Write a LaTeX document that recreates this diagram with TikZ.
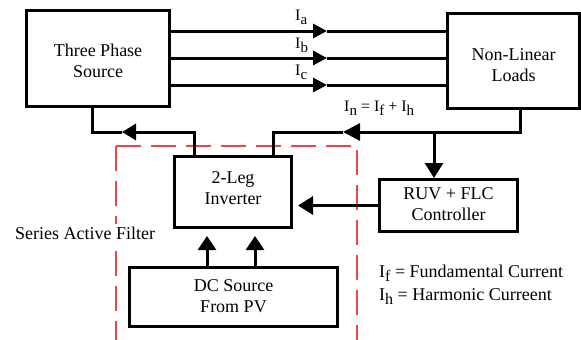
\documentclass[tikz,border=0pt]{standalone}
\usepackage{fontspec}
\setmainfont{Liberation Serif}
\usetikzlibrary{arrows.meta}
\definecolor{rd}{RGB}{236,70,75}
\newcommand\lsub[2][15]{\raisebox{-4.5pt}{\fontsize{#1}{#1}\selectfont #2}}
\begin{document}
\begin{tikzpicture}[x=1pt,y=-1pt,
  box/.style={draw, fill=white, line width=3pt, inner sep=0pt},
  txt/.style={inner sep=0pt, align=center, font=\fontsize{18}{21}\selectfont},
  wire/.style={line width=3pt},
  lbl/.style={inner sep=0pt, anchor=base west, font=\fontsize{16}{19}\selectfont},
  leg/.style={inner sep=0pt, anchor=base west, font=\fontsize{18}{21}\selectfont},
  reddash/.style={draw=rd, line width=1.5pt, dash pattern=on 25pt off 10pt},
  tipI/.style={-{Triangle[length=14pt,width=14pt]}},
  tipL/.style={-{Triangle[length=14pt,width=16pt]}},
  tipD/.style={-{Triangle[length=15pt,width=18pt]}},
]
\useasboundingbox (0,0) rectangle (581,340);

% red dashed frame
\coordinate (rtl) at (116,146);
\coordinate (rtr) at (357,146);
\coordinate (rbl) at (116,340);
\coordinate (rbr) at (357,340);
\draw[reddash] (rtl) -- (rbl);
\draw[reddash] (rtl) -- (rtr) -- (rbr);
\node[leg, fill=white, inner sep=3pt, anchor=base west] (saf) at (12,239) {Series Active Filter};

% boxes
\node[box, minimum width=143pt, minimum height=96pt,
  label={[txt, yshift=-2pt]center:{Three Phase\\Source}}] (src) at (98,58.5) {};
\node[box, minimum width=132pt, minimum height=95pt,
  label={[txt, yshift=-4pt]center:{Non-Linear\\Loads}}] (loads) at (513.5,61) {};
\node[box, minimum width=117pt, minimum height=71pt,
  label={[txt, yshift=4pt]center:{2-Leg\\Inverter}}] (inv) at (233,192) {};
\node[box, minimum width=208pt, minimum height=59pt,
  label={[txt, yshift=1pt]center:{DC Source\\From PV}}] (dc) at (233.5,297) {};
\node[box, minimum width=138pt, minimum height=52pt,
  label={[txt, yshift=1pt]center:{RUV + FLC\\Controller}}] (ctrl) at (448.5,205.5) {};

% three phase lines
\coordinate (ya) at (327,31);
\coordinate (yb) at (327,58);
\coordinate (yc) at (327,85);
\draw[wire, tipI] (src.east |- ya) -- (ya);
\draw[wire] (ya) -- (loads.west |- ya);
\draw[wire, tipI] (src.east |- yb) -- (yb);
\draw[wire] (yb) -- (loads.west |- yb);
\draw[wire, tipI] (src.east |- yc) -- (yc);
\draw[wire] (yc) -- (loads.west |- yc);
\node[lbl] (la) at (295,20) {I\lsub{a}};
\node[lbl] (lb) at (295,48) {I\lsub{b}};
\node[lbl] (lc) at (295,75) {I\lsub{c}};

% inverter to source
\coordinate (j1) at (194,132);
\coordinate (t1) at (122,132);
\coordinate (s1) at (92,132);
\draw[wire, tipL] (inv.north -| j1) -- (j1) -- (t1);
\draw[wire] (t1) -- (s1) -- (src.south -| s1);

% loads to inverter
\coordinate (j2) at (520,132);
\coordinate (t2) at (343,132);
\coordinate (j3) at (273,132);
\coordinate (br) at (434,132);
\draw[wire, -{Triangle[length=17pt,width=17pt]}] (loads.south -| j2) -- (j2) -- (t2);
\draw[wire] (t2) -- (j3) -- (inv.north -| j3);
\draw[wire, tipD] (br) -- (ctrl.north -| br);
\node[lbl] (ln) at (344,111) {I\lsub{n} = I\lsub{f} + I\lsub{h}};

% controller to inverter
\draw[wire, tipD, shorten >=5pt] (ctrl.west) -- (inv.east |- ctrl.west);

% DC to inverter
\coordinate (d1) at (207,250);
\coordinate (d2) at (255,250);
\draw[wire, -{Triangle[length=14pt,width=18pt]}, shorten >=7pt] (dc.north -| d1) -- (inv.south -| d1);
\draw[wire, -{Triangle[length=14pt,width=18pt]}, shorten >=7pt] (dc.north -| d2) -- (inv.south -| d2);

% legend
\node[leg] (lf) at (379,277) {I\lsub[16]{f} = Fundamental Current};
\node[leg] (lh) at (379,300) {I\lsub[16]{h} = Harmonic Curreent};
\end{tikzpicture}
\end{document}
